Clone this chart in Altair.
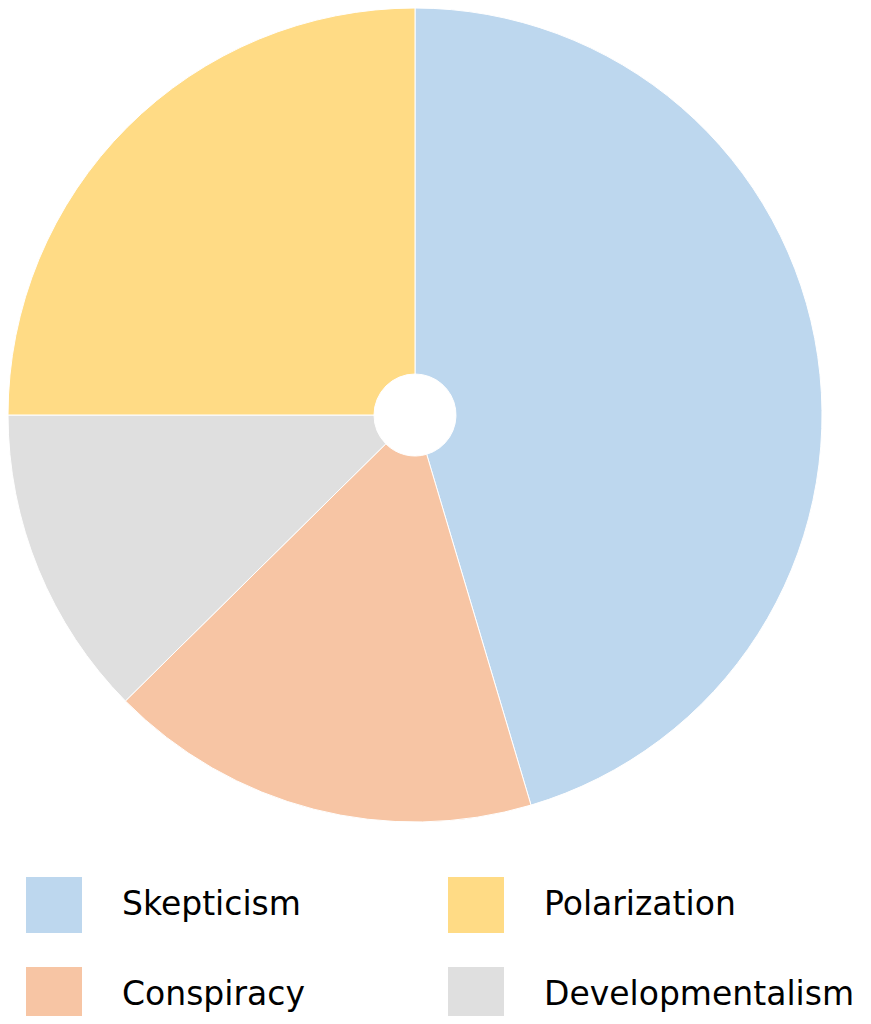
import altair as alt
import pandas as pd

categories = ["Skepticism", "Conspiracy", "Developmentalism", "Polarization"]
shares = [45.4, 17.2, 12.4, 25.0]
# legend is filled column by column: column 1 = Skepticism, Conspiracy; column 2 = Polarization, Developmentalism
legend_order = ["Skepticism", "Conspiracy", "Polarization", "Developmentalism"]
legend_colors = ["#BDD7EE", "#F7C5A4", "#FFDB85", "#DFDFDF"]

df = pd.DataFrame({
    "category": categories,
    "share": shares,
    "idx": list(range(len(categories))),
})

chart = alt.Chart(df).mark_arc(
    innerRadius=41, outerRadius=407, stroke="white", strokeWidth=1
).encode(
    theta=alt.Theta("share:Q", stack=True),
    order=alt.Order("idx:Q"),
    x=alt.value(407),
    y=alt.value(407),
    color=alt.Color(
        "category:N",
        scale=alt.Scale(domain=legend_order, range=legend_colors),
        legend=alt.Legend(
            orient="none", legendX=18, legendY=869, columns=2,
            symbolType="square", symbolSize=56 * 56, symbolStrokeWidth=0,
            symbolOpacity=1,
            labelFont="DejaVu Sans", labelFontSize=33, labelOffset=40,
            labelColor="black", labelLimit=0,
            rowPadding=34, columnPadding=143, title=None,
        ),
    ),
).properties(
    width=855, height=1008, padding=0,
    autosize=alt.AutoSizeParams(type="none"),
).configure_view(stroke=None)

chart.save("out.html", embed_options={"renderer": "svg", "actions": False})
